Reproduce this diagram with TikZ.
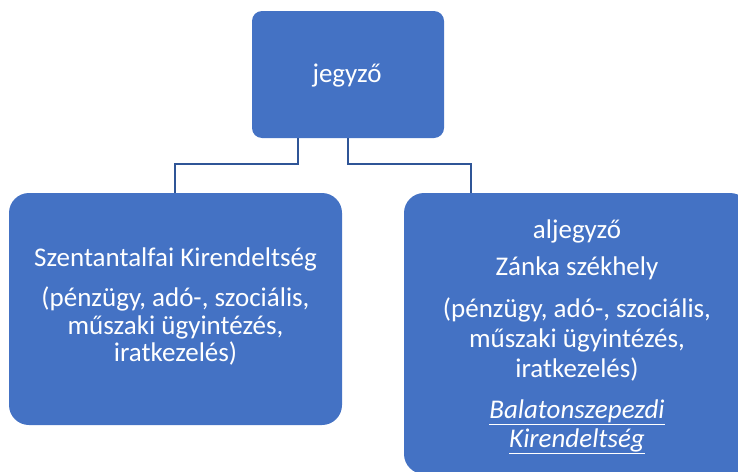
\documentclass[tikz,border=0pt]{standalone}
\usepackage{fontspec}
\setmainfont{Carlito}
\definecolor{boxblue}{HTML}{4472C4}
\definecolor{lineblue}{HTML}{2F5597}
\begin{document}
\begin{tikzpicture}[x=1pt,y=-1pt,
  box/.style={fill=boxblue,draw=none},
  txt/.style={anchor=base,inner sep=0pt,text=white,font=\fontsize{27}{29}\selectfont},
  conn/.style={draw=lineblue,line width=2.8pt}]
\useasboundingbox (0,0) rectangle (738,471);
\clip (0,0) rectangle (738,471);
% boxes
\path[box,rounded corners=10pt] (252,11) rectangle (444,138);
\node[inner sep=0pt,minimum width=192pt,minimum height=127pt] (top) at (348,74.5) {};
\path[box,rounded corners=20pt] (9,193) rectangle (342,425);
\node[inner sep=0pt,minimum width=333pt,minimum height=232pt] (left) at (175.5,309) {};
\path[box,rounded corners=20pt] (404,193) rectangle (750,474);
\node[inner sep=0pt,minimum width=346pt,minimum height=281pt] (right) at (577,333.5) {};
% connectors
\coordinate (tl) at (298,138);
\coordinate (tr) at (348,138);
\coordinate (lt) at (175,193);
\coordinate (rt) at (471,193);
\draw[conn] (tl) -- ++(0,26) -| (lt);
\draw[conn] (tr) -- ++(0,26) -| (rt);
% texts
\node[txt] (t0) at (347,82) {jegyző};
\node[txt] (l1) at (175.5,266.7) {Szentantalfai Kirendeltség};
\node[txt] (l2) at (175.5,306.7) {(pénzügy, adó-, szociális,};
\node[txt] (l3) at (175.5,334) {műszaki ügyintézés,};
\node[txt] (l4) at (175.5,361) {iratkezelés)};
\node[txt] (r1) at (577,238) {aljegyző};
\node[txt] (r2) at (577,275) {Zánka székhely};
\node[txt] (r3) at (577,317) {(pénzügy, adó-, szociális,};
\node[txt] (r4) at (577,347) {műszaki ügyintézés,};
\node[txt] (r5) at (577,377) {iratkezelés)};
\node[txt] (r6) at (577,418) {\itshape\underline{Balatonszepezdi}};
\node[txt] (r7) at (577,447) {\itshape\underline{Kirendeltség}};
\end{tikzpicture}
\end{document}
